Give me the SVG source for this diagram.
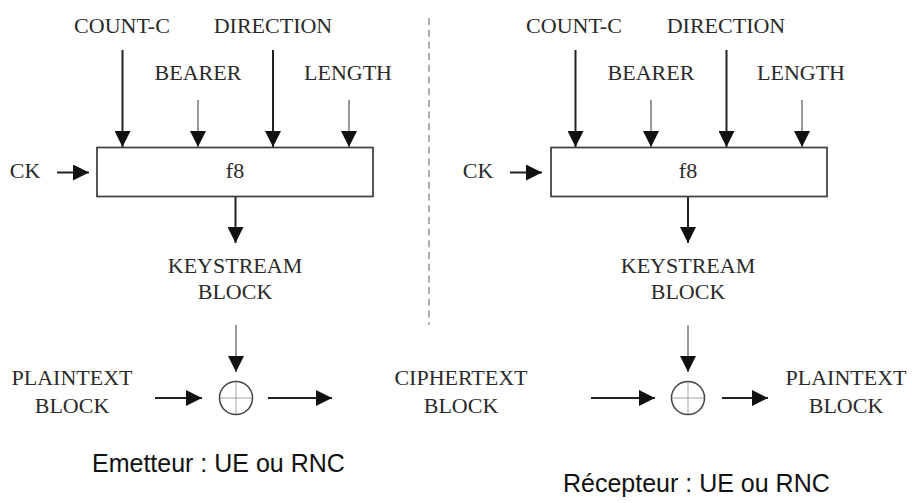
<svg xmlns="http://www.w3.org/2000/svg" width="912" height="503" viewBox="0 0 912 503">
  <style>
    .lbl { font-family: "Liberation Serif", "Times New Roman", serif; font-size: 22px; fill: #2a2a2a; text-anchor: middle; }
    .cap { font-family: "Liberation Sans", Arial, sans-serif; font-size: 25px; fill: #111; }
    .box { fill: #fff; stroke: #444; stroke-width: 1.8; }
    .thick { stroke: #222; stroke-width: 2; fill: none; }
    .thin { stroke: #555; stroke-width: 1.2; fill: none; }
    .xor { fill: #fff; stroke: #444; stroke-width: 1.5; }
    .cross { stroke: #999; stroke-width: 0.9; }
    .sep { stroke: #9a9a9a; stroke-width: 1.6; stroke-dasharray: 7 4.7; fill: none; }
  </style>
  <defs>
    <marker id="ah" markerUnits="userSpaceOnUse" markerWidth="16" markerHeight="16" refX="16" refY="8" orient="auto">
      <path d="M0,0 L16,8 L0,16 z" fill="#111"/>
    </marker>
  </defs>

  <!-- separator -->
  <line class="sep" x1="429" y1="18" x2="429" y2="325"/>

  <g id="connectors">
    <!-- left side -->
    <line class="thick" x1="122.5" y1="50" x2="122.5" y2="147" marker-end="url(#ah)"/>
    <line class="thin" x1="198" y1="100" x2="198" y2="147" marker-end="url(#ah)"/>
    <line class="thick" x1="273" y1="50" x2="273" y2="147" marker-end="url(#ah)"/>
    <line class="thin" x1="349" y1="100" x2="349" y2="147" marker-end="url(#ah)"/>
    <line class="thick" x1="57" y1="172.5" x2="89" y2="172.5" marker-end="url(#ah)"/>
    <line class="thick" x1="235.5" y1="197" x2="235.5" y2="243" marker-end="url(#ah)"/>
    <line class="thin" x1="236" y1="325" x2="236" y2="372" marker-end="url(#ah)"/>
    <line class="thick" x1="155" y1="398" x2="202" y2="398" marker-end="url(#ah)"/>
    <line class="thick" x1="268" y1="398" x2="332" y2="398" marker-end="url(#ah)"/>
    <!-- right side -->
    <line class="thick" x1="575.5" y1="50" x2="575.5" y2="147" marker-end="url(#ah)"/>
    <line class="thin" x1="651" y1="100" x2="651" y2="147" marker-end="url(#ah)"/>
    <line class="thick" x1="726.5" y1="50" x2="726.5" y2="147" marker-end="url(#ah)"/>
    <line class="thin" x1="802" y1="100" x2="802" y2="147" marker-end="url(#ah)"/>
    <line class="thick" x1="510" y1="172.5" x2="542" y2="172.5" marker-end="url(#ah)"/>
    <line class="thick" x1="688" y1="197" x2="688" y2="243" marker-end="url(#ah)"/>
    <line class="thin" x1="688" y1="325" x2="688" y2="372" marker-end="url(#ah)"/>
    <line class="thick" x1="591" y1="398" x2="655" y2="398" marker-end="url(#ah)"/>
    <line class="thick" x1="722" y1="398" x2="768" y2="398" marker-end="url(#ah)"/>
  </g>

  <!-- left (sender) -->
  <g id="count-c-left"><text class="lbl" x="122" y="33">COUNT-C</text></g>
  <g id="direction-left"><text class="lbl" x="273" y="33">DIRECTION</text></g>
  <g id="bearer-left"><text class="lbl" x="198" y="80">BEARER</text></g>
  <g id="length-left"><text class="lbl" x="348" y="80">LENGTH</text></g>
  <g id="ck-left"><text class="lbl" x="25" y="178">CK</text></g>
  <g id="f8-left">
    <rect class="box" x="97" y="147.5" width="276" height="49"/>
    <text class="lbl" x="235" y="178">f8</text>
  </g>
  <g id="keystream-left">
    <text class="lbl" x="235" y="273">KEYSTREAM</text>
    <text class="lbl" x="235" y="299">BLOCK</text>
  </g>
  <g id="plaintext-left">
    <text class="lbl" x="72" y="385">PLAINTEXT</text>
    <text class="lbl" x="72" y="413">BLOCK</text>
  </g>
  <g id="xor-left">
    <circle class="xor" cx="236" cy="398" r="16.5"/>
    <line class="cross" x1="220" y1="398" x2="252" y2="398"/>
    <line class="cross" x1="236" y1="382" x2="236" y2="414"/>
  </g>
  <g id="ciphertext">
    <text class="lbl" x="461" y="385">CIPHERTEXT</text>
    <text class="lbl" x="461" y="413">BLOCK</text>
  </g>

  <!-- right (receiver) -->
  <g id="count-c-right"><text class="lbl" x="574" y="33">COUNT-C</text></g>
  <g id="direction-right"><text class="lbl" x="726" y="33">DIRECTION</text></g>
  <g id="bearer-right"><text class="lbl" x="651" y="80">BEARER</text></g>
  <g id="length-right"><text class="lbl" x="801" y="80">LENGTH</text></g>
  <g id="ck-right"><text class="lbl" x="478" y="178">CK</text></g>
  <g id="f8-right">
    <rect class="box" x="551" y="147.5" width="276" height="49"/>
    <text class="lbl" x="688" y="178">f8</text>
  </g>
  <g id="keystream-right">
    <text class="lbl" x="688" y="273">KEYSTREAM</text>
    <text class="lbl" x="688" y="299">BLOCK</text>
  </g>
  <g id="xor-right">
    <circle class="xor" cx="688" cy="398" r="16.5"/>
    <line class="cross" x1="672" y1="398" x2="704" y2="398"/>
    <line class="cross" x1="688" y1="382" x2="688" y2="414"/>
  </g>
  <g id="plaintext-right">
    <text class="lbl" x="846" y="385">PLAINTEXT</text>
    <text class="lbl" x="846" y="413">BLOCK</text>
  </g>

  <g id="captions">
    <text class="cap" x="92" y="472">Emetteur : UE ou RNC</text>
    <text class="cap" x="563" y="492">Récepteur : UE ou RNC</text>
  </g>
</svg>
